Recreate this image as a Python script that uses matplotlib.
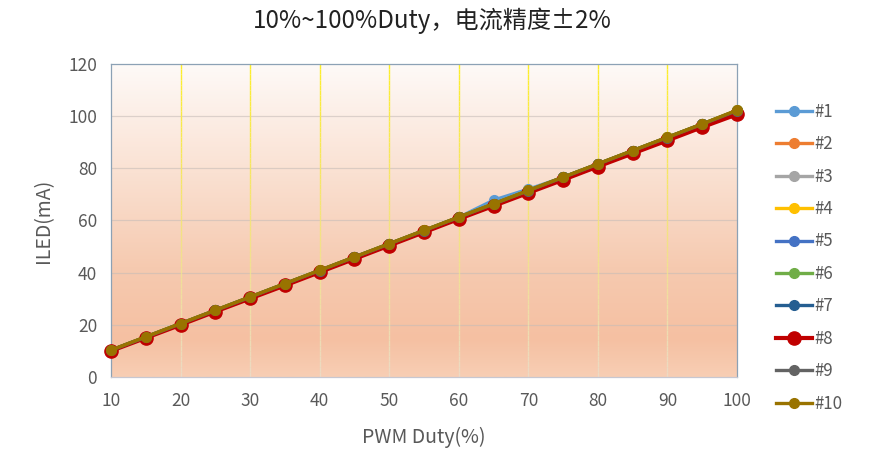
import numpy as np
import matplotlib.pyplot as plt
from matplotlib.collections import LineCollection

plt.rcParams['font.family'] = ['Noto Sans CJK SC', 'DejaVu Sans']

duty = [10, 15, 20, 25, 30, 35, 40, 45, 50, 55, 60, 65, 70, 75, 80, 85, 90, 95, 100]

s1 = [10.2, 15.3, 20.4, 25.5, 30.6, 35.7, 40.8, 45.9, 51.0, 56.1, 61.2, 67.8, 72.0, 76.5, 81.6, 86.7, 91.8, 96.9, 102.0]
s2 = [10.2, 15.3, 20.4, 25.5, 30.6, 35.7, 40.8, 45.9, 51.0, 56.1, 61.2, 66.3, 71.4, 76.5, 81.6, 86.7, 91.8, 96.9, 102.0]
s3 = [10.2, 15.3, 20.4, 25.5, 30.6, 35.7, 40.8, 45.9, 51.0, 56.1, 61.2, 66.3, 71.4, 76.5, 81.6, 86.7, 91.8, 96.9, 102.1]
s4 = [10.3, 15.4, 20.5, 25.6, 30.7, 35.8, 40.9, 46.0, 51.1, 56.2, 61.3, 66.4, 71.5, 76.6, 81.7, 86.8, 91.9, 97.0, 102.1]
s5 = [10.2, 15.3, 20.4, 25.5, 30.6, 35.7, 40.8, 45.9, 51.0, 56.1, 61.2, 66.3, 71.4, 76.5, 81.6, 86.7, 91.8, 96.9, 102.0]
s6 = [10.3, 15.4, 20.5, 25.6, 30.7, 35.8, 40.9, 46.0, 51.1, 56.2, 61.3, 66.4, 71.5, 76.6, 81.7, 86.8, 91.9, 97.0, 102.2]
s7 = [10.2, 15.3, 20.4, 25.5, 30.6, 35.7, 40.8, 45.9, 51.0, 56.1, 61.2, 66.3, 71.4, 76.5, 81.6, 86.7, 91.8, 96.9, 102.0]
s8 = [10.0, 15.0, 20.0, 25.1, 30.1, 35.1, 40.2, 45.3, 50.4, 55.5, 60.6, 65.6, 70.6, 75.6, 80.7, 85.7, 90.7, 95.8, 100.7]
s9 = [10.2, 15.3, 20.4, 25.5, 30.6, 35.7, 40.8, 45.9, 51.0, 56.1, 61.2, 66.3, 71.4, 76.5, 81.6, 86.7, 91.8, 96.9, 102.1]
s10 = [10.3, 15.4, 20.5, 25.6, 30.7, 35.8, 40.9, 46.0, 51.1, 56.2, 61.3, 66.4, 71.5, 76.6, 81.7, 86.8, 91.9, 97.0, 102.3]

series = [s1, s2, s3, s4, s5, s6, s7, s8, s9, s10]
labels = ["#1", "#2", "#3", "#4", "#5", "#6", "#7", "#8", "#9", "#10"]
colors = ["#5B9BD5", "#ED7D31", "#A5A5A5", "#FFC000", "#4472C4",
          "#70AD47", "#255E91", "#C00000", "#636363", "#997300"]

x_ticks = [10, 20, 30, 40, 50, 60, 70, 80, 90, 100]
y_ticks = [0, 20, 40, 60, 80, 100, 120]

fig = plt.figure(figsize=(8.76, 4.61), dpi=100)
ax = fig.add_axes([0.1267, 0.1822, 0.7146, 0.679])
ax.set_xlim(10, 100)
ax.set_ylim(0, 120)

# gradient background, white at top to peach near the bottom
stops = np.array([0.0, 0.12, 0.35, 0.65, 1.0])
cols = np.array([[248, 206, 180], [245, 192, 162], [246, 202, 176],
                 [250, 225, 210], [254, 250, 248]]) / 255.0
yy = np.linspace(0, 1, 300)
grad = np.stack([np.interp(yy, stops, cols[:, i]) for i in range(3)], axis=1)
ax.imshow(grad[::-1, None, :], extent=[0, 1, 0, 1], transform=ax.transAxes,
          aspect='auto', zorder=0, interpolation='bilinear')

# horizontal grid
for yv in y_ticks[1:-1]:
    ax.axhline(yv, color=(0.78, 0.74, 0.72), lw=0.9, alpha=0.6, zorder=1)

# vertical grid: yellow on top, fading to pale beige at bottom
n = 60
top_c = np.array([252, 238, 40]) / 255.0
bot_c = np.array([236, 218, 196]) / 255.0
for xv in x_ticks[1:-1]:
    ys = np.linspace(120, 0, n + 1)
    segs = [[(xv, ys[i]), (xv, ys[i + 1])] for i in range(n)]
    t = np.linspace(0, 1, n)
    c = [tuple(top_c * (1 - k ** 0.9) + bot_c * k ** 0.9) for k in t]
    ax.add_collection(LineCollection(segs, colors=c, linewidths=1.0, zorder=1))

handles = []
for vals, lab, col in zip(series, labels, colors):
    if lab == "#8":
        h, = ax.plot(duty, vals, color=col, lw=3.0, marker='o', ms=9.5,
                     label=lab, zorder=3, clip_on=False)
    else:
        h, = ax.plot(duty, vals, color=col, lw=2.4, marker='o', ms=7,
                     label=lab, zorder=3, clip_on=False)
    handles.append(h)

for side in ['top', 'right', 'left']:
    ax.spines[side].set_color((0.55, 0.63, 0.71))
    ax.spines[side].set_linewidth(0.9)
ax.spines['bottom'].set_color((0.78, 0.78, 0.82))
ax.spines['bottom'].set_linewidth(0.9)

ax.set_xticks(x_ticks)
ax.set_yticks(y_ticks)
ax.tick_params(length=0, labelsize=12.5, colors='#595959')
ax.tick_params(axis='x', pad=11)
ax.tick_params(axis='y', pad=10)
ax.set_xlabel("PWM Duty(%)", fontsize=14, color='#595959', labelpad=12)
ax.set_ylabel("ILED(mA)", fontsize=14, color='#595959', labelpad=10)

fig.text(0.493, 0.955, "10%~100%Duty，电流精度±2%", fontsize=17.4,
         ha='center', va='center', color='#222222')

fig.legend(handles=handles, labels=labels, loc='center left',
           bbox_to_anchor=(0.886, 0.441), frameon=False, fontsize=12.2,
           labelcolor='#595959', handlelength=2.1, handletextpad=0.15,
           labelspacing=0.85, borderpad=0, borderaxespad=0)

fig.savefig("out.png", dpi=100)
